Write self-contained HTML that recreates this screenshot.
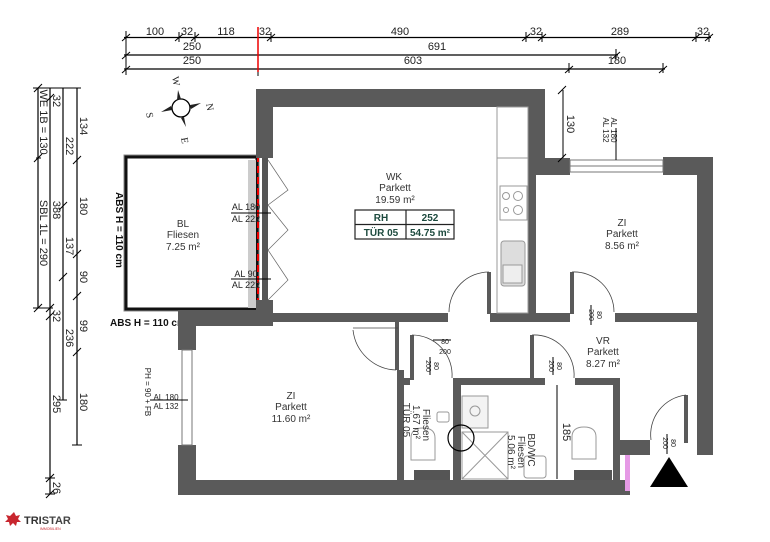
<!DOCTYPE html>
<html><head><meta charset="utf-8"><style>
html,body{margin:0;padding:0;background:#fff;}
svg{display:block;font-family:"Liberation Sans",sans-serif;}
</style></head><body>
<svg width="770" height="542" viewBox="0 0 770 542" xmlns="http://www.w3.org/2000/svg">
<rect width="770" height="542" fill="#fff"/>
<!-- top dimensions -->
<g stroke="#000" stroke-width="1.2" fill="none">
<line x1="124" y1="37.5" x2="711" y2="37.5"/>
<line x1="124" y1="55" x2="618" y2="55"/>
<line x1="124" y1="69" x2="665" y2="69"/>
<g stroke-width="1">
<path d="M126 31v44M179 32v10M195 32v10M258 32v44M271 32v10M526 32v10M542 32v10M696 32v10M709 32v10M616 49v10M569 63v10M663 63v10"/>
<path d="M122 41l8-7M175 41l8-7M191 41l8-7M267 41l8-7M522 41l8-7M538 41l8-7M692 41l8-7M705 41l8-7M122 59l8-7M612 59l8-7M122 73l8-7M565 73l8-7M659 73l8-7"/>
</g>
</g>
<line x1="258" y1="27" x2="258" y2="72" stroke="#e00" stroke-width="1.5"/>
<g font-size="11" fill="#222" text-anchor="middle">
<text x="155" y="35">100</text><text x="187" y="35">32</text><text x="226" y="35">118</text><text x="265" y="35">32</text>
<text x="400" y="35">490</text><text x="536" y="35">32</text><text x="620" y="35">289</text><text x="703" y="35">32</text>
<text x="192" y="50">250</text><text x="437" y="50">691</text>
<text x="192" y="64">250</text><text x="413" y="64">603</text><text x="617" y="64">180</text>
</g>
<!-- left dimensions -->
<g stroke="#000" stroke-width="1.2" fill="none">
<line x1="38" y1="88" x2="38" y2="308"/>
<line x1="50" y1="88" x2="50" y2="494"/>
<line x1="63" y1="88" x2="63" y2="400"/>
<line x1="77" y1="88" x2="77" y2="445"/>
<path d="M33 88h48M33 308h20M36 158h5M57 400h10M72 445h10M45 494h10M45 478h10" stroke-width="1"/>
<path d="M34 92l8-8M46 102l8-8M34 162l8-8M34 312l8-8M46 312l8-8M46 320l8-8M46 482l8-8M46 498l8-8M59 210l8-8M59 281l8-8M73 164l8-8M73 258l8-8M73 300l8-8M73 356l8-8" stroke-width="1"/>
</g>
<g font-size="11" fill="#222" text-anchor="middle">
<text transform="translate(40,122) rotate(90)">WE 1B = 130</text>
<text transform="translate(40,233) rotate(90)">SBL 1L = 290</text>
<text transform="translate(53,101) rotate(90)">32</text>
<text transform="translate(53,210) rotate(90)">388</text>
<text transform="translate(53,316) rotate(90)">32</text>
<text transform="translate(53,404) rotate(90)">295</text>
<text transform="translate(53,488) rotate(90)">26</text>
<text transform="translate(66,146) rotate(90)">222</text>
<text transform="translate(66,246) rotate(90)">137</text>
<text transform="translate(66,338) rotate(90)">236</text>
<text transform="translate(80,126) rotate(90)">134</text>
<text transform="translate(80,206) rotate(90)">180</text>
<text transform="translate(80,277) rotate(90)">90</text>
<text transform="translate(80,326) rotate(90)">99</text>
<text transform="translate(80,402) rotate(90)">180</text>
</g>
<!-- compass -->
<g>
<circle cx="181" cy="108" r="9" fill="#fff" stroke="#000" stroke-width="1.3"/>
<path d="M177 100l1-10 3 9zM190 105l11-2-10 6zM184 117l2 10-5-9zM172 110l-11 2 10-6z" fill="#222"/>
<g font-size="10" fill="#222" font-family="Liberation Serif,serif">
<text transform="translate(172,77) rotate(80)">W</text>
<text transform="translate(206,104) rotate(80)">N</text>
<text transform="translate(146,113) rotate(80)">S</text>
<text transform="translate(181,138) rotate(80)">E</text>
</g>
</g>
<!-- BL balcony -->
<rect x="126" y="157" width="131" height="152" fill="#fff" stroke="#111" stroke-width="3"/>
<rect x="124" y="155" width="135" height="156" fill="none" stroke="#888" stroke-width="1"/>
<rect x="248" y="160" width="8" height="148" fill="#ccc"/>
<line x1="258" y1="155" x2="258" y2="312" stroke="#e00" stroke-width="2" stroke-dasharray="7,4"/>
<rect x="262" y="158" width="6" height="150" fill="#555"/>
<g stroke="#666" stroke-width="0.7" fill="none">
<path d="M268 160l20 30-20 15M268 205l20 25-20 20M268 250l20 30-20 20"/>
</g>
<g font-size="9" fill="#222" text-anchor="middle">
<text x="246" y="210">AL 180</text><text x="246" y="222">AL 222</text>
<text x="246" y="277">AL 90</text><text x="246" y="288">AL 222</text>
</g>
<path d="M231 213h40M231 279h40" stroke="#000" stroke-width="1"/>
<text transform="translate(116,230) rotate(90)" font-size="10" font-weight="bold" text-anchor="middle" fill="#111">ABS H = 110 cm</text>
<text x="110" y="326" font-size="10" font-weight="bold" fill="#111">ABS H = 110 cm</text>
<!-- walls -->
<g fill="#5a5a5a">
<rect x="256" y="89" width="289" height="18"/>
<rect x="256" y="89" width="17" height="69"/>
<rect x="528" y="89" width="17" height="77"/>
<rect x="528" y="158" width="42" height="17"/>
<rect x="663" y="157" width="50" height="18"/>
<rect x="697" y="157" width="16" height="298"/>
<rect x="528" y="166" width="8" height="150"/>
<rect x="256" y="300" width="17" height="26"/>
<rect x="178" y="310" width="95" height="16"/>
<rect x="273" y="313" width="175" height="9"/>
<rect x="490" y="313" width="80" height="9"/>
<rect x="615" y="313" width="97" height="9"/>
<rect x="178" y="310" width="18" height="40"/>
<rect x="178" y="445" width="18" height="50"/>
<rect x="178" y="480" width="452" height="15"/>
<rect x="397" y="370" width="7" height="110"/>
<rect x="397" y="378" width="13" height="7"/>
<rect x="453" y="378" width="92" height="7"/>
<rect x="575" y="378" width="45" height="7"/>
<rect x="453" y="378" width="8" height="102"/>
<rect x="613" y="378" width="7" height="102"/>
<rect x="613" y="440" width="37" height="15"/>
<rect x="410" y="335" width="4" height="45"/>
<rect x="530" y="335" width="4" height="45"/>
<rect x="487" y="272" width="4" height="42"/>
<rect x="570" y="272" width="4" height="42"/>
<rect x="684" y="395" width="4" height="48"/>
<rect x="395" y="322" width="4" height="48"/>
</g>
<!-- windows -->
<g fill="none" stroke="#777" stroke-width="1">
<rect x="570" y="160" width="93" height="12"/>
<rect x="182" y="350" width="10" height="95"/>
<line x1="570" y1="166" x2="663" y2="166"/>
</g>
<text transform="translate(611,130) rotate(90)" font-size="8" text-anchor="middle" fill="#222">AL 180</text>
<text transform="translate(603,130) rotate(90)" font-size="8" text-anchor="middle" fill="#222">AL 132</text>
<line x1="616" y1="128" x2="616" y2="160" stroke="#000"/>
<line x1="563" y1="90" x2="563" y2="158" stroke="#000"/>
<path d="M558 94l8-8M558 162l8-8" stroke="#000"/>
<text transform="translate(567,124) rotate(90)" font-size="11" text-anchor="middle" fill="#222">130</text>
<g font-size="8" fill="#222" text-anchor="middle">
<text x="166" y="400">AL 180</text><text x="166" y="409">AL 132</text>
<text transform="translate(145,392) rotate(90)">PH = 90 + FB</text>
</g>
<path d="M150 400h38" stroke="#000"/>
<!-- kitchen -->
<g fill="none" stroke="#999" stroke-width="1">
<rect x="497" y="107" width="31" height="206"/>
<line x1="497" y1="158" x2="528" y2="158"/>
<rect x="500" y="186" width="27" height="34"/>
<circle cx="506" cy="196" r="3.5"/><circle cx="518" cy="196" r="4.5"/><circle cx="506" cy="210" r="2.5"/><circle cx="518" cy="210" r="4.5"/>
<rect x="501" y="241" width="24" height="45" rx="3" fill="#ddd"/>
<rect x="503" y="265" width="19" height="18" fill="#eee"/>
</g>
<!-- door arcs -->
<g fill="none" stroke="#444" stroke-width="0.8">
<path d="M449 312a40 40 0 0 1 40-40"/>
<path d="M614 312a40 40 0 0 0 -42-40"/>
<path d="M353 330a45 45 0 0 0 43 40"/>
<path d="M452 378a40 40 0 0 0 -40-43"/>
<path d="M574 378a40 40 0 0 0 -42-43"/>
<path d="M651 440a40 40 0 0 1 35-45"/>
<line x1="353" y1="328" x2="398" y2="328"/>
</g>
<g stroke="#000" stroke-width="1"><path d="M591 305v20M433 340h18M430 357v18M553 357v18M667 434v20"/></g>
<g font-size="7" fill="#222" text-anchor="middle">
<text transform="translate(597,315) rotate(90)">80</text><text transform="translate(589,315) rotate(90)">200</text>
<text x="445" y="344">80</text><text x="445" y="354">200</text>
<text transform="translate(434,366) rotate(90)">80</text><text transform="translate(426,366) rotate(90)">200</text>
<text transform="translate(557,366) rotate(90)">80</text><text transform="translate(549,366) rotate(90)">200</text>
<text transform="translate(671,443) rotate(90)">80</text><text transform="translate(663,443) rotate(90)">200</text>
</g>
<!-- bathroom fixtures -->
<g fill="none" stroke="#999" stroke-width="1">
<rect x="462" y="396" width="26" height="32" fill="#f3f3f3"/>
<circle cx="475" cy="411" r="5"/>
<rect x="462" y="432" width="46" height="47"/>
<path d="M462 432l46 47M508 432l-46 47"/>
<path d="M411 438q0-10 12-10q12 0 12 10v22h-24z"/>
<path d="M572 437q0-10 12-10q12 0 12 10v22h-24z"/>
<rect x="524" y="456" width="22" height="22" rx="3"/>
<rect x="437" y="412" width="12" height="10" rx="2"/>
</g>
<g fill="#555"><rect x="414" y="470" width="36" height="10"/><rect x="574" y="470" width="38" height="10"/></g>
<circle cx="461" cy="438" r="13" fill="none" stroke="#000" stroke-width="1.2"/>
<rect x="625" y="455" width="5" height="36" fill="#e69ae6"/>
<line x1="557" y1="385" x2="557" y2="479" stroke="#000"/>
<text transform="translate(563,432) rotate(90)" font-size="11" text-anchor="middle" fill="#222">185</text>
<g font-size="10" fill="#333" text-anchor="middle">
<text transform="translate(423,425) rotate(90)">Fliesen</text>
<text transform="translate(413,422) rotate(90)">1.67 m²</text>
<text transform="translate(403,420) rotate(90)">TÜR 05</text>
<text transform="translate(528,450) rotate(90)">BD/WC</text>
<text transform="translate(518,452) rotate(90)">Fliesen</text>
<text transform="translate(508,452) rotate(90)">5.06 m²</text>
</g>
<!-- entrance triangle -->
<path d="M650 487l19-30 19 30z" fill="#000"/>
<!-- room labels -->
<g font-size="10" fill="#333" text-anchor="middle">
<text x="394" y="180">WK</text><text x="395" y="191">Parkett</text><text x="395" y="203">19.59 m²</text>
<text x="622" y="226">ZI</text><text x="622" y="237">Parkett</text><text x="622" y="249">8.56 m²</text>
<text x="183" y="227">BL</text><text x="183" y="238">Fliesen</text><text x="183" y="250">7.25 m²</text>
<text x="291" y="399">ZI</text><text x="291" y="410">Parkett</text><text x="291" y="422">11.60 m²</text>
<text x="603" y="344">VR</text><text x="603" y="355">Parkett</text><text x="603" y="367">8.27 m²</text>
</g>
<g stroke="#222" stroke-width="1.2" fill="none">
<rect x="355" y="210" width="99" height="29"/><line x1="355" y1="224.5" x2="454" y2="224.5"/><line x1="406" y1="210" x2="406" y2="239"/>
</g>
<g font-size="10" font-weight="bold" fill="#1d4a3e" text-anchor="middle">
<text x="381" y="221">RH</text><text x="430" y="221">252</text>
<text x="381" y="236">TÜR 05</text><text x="430" y="236">54.75 m²</text>
</g>
<!-- logo -->
<path d="M14 512l2 4 4-1-2 4 3 3-4 0-1 4-3-3-3 3-1-4-4 0 3-3-2-4 4 1z" fill="#c8262e"/>
<text x="24" y="524" font-size="11" font-weight="bold" fill="#333">TRI<tspan fill="#444">STAR</tspan></text>
<text x="40" y="530" font-size="3.5" fill="#c8262e">IMMOBILIEN</text>
</svg>
</body></html>
